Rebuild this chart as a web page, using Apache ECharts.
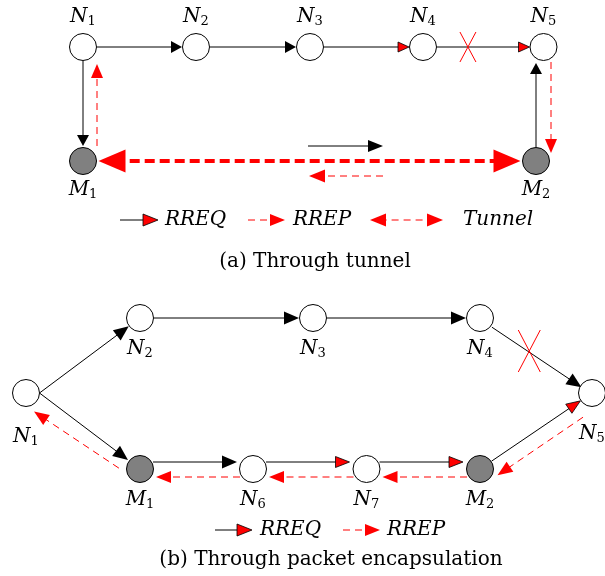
<!DOCTYPE html>
<html>
<head>
<meta charset="utf-8">
<script src="https://cdn.jsdelivr.net/npm/echarts@6/dist/echarts.min.js"></script>
<style>
  html, body { margin: 0; padding: 0; background: #fff; }
  #chart { width: 605px; height: 576px; }
</style>
</head>
<body>
<div id="chart"></div>
<script>
// ---------- (a) route repair through a tunnel ----------
const nodesA  = ['N1', 'N2', 'N3', 'N4', 'N5', 'M1', 'M2'];
const nodesAX = [83, 196, 310, 423, 543.5, 83, 536];
const nodesAY = [47, 47, 47, 47, 47, 161, 161];
const linksAFrom = ['N1', 'N2', 'N3', 'N4', 'N1', 'M2', 'M1', 'N5', 'M1'];
const linksATo   = ['N2', 'N3', 'N4', 'N5', 'M1', 'N5', 'N1', 'M2', 'M2'];
const linksAType = ['rreq', 'rreq', 'rreqRed', 'rreqRed', 'rreq', 'rreq', 'rrep', 'rrep', 'tunnel'];
const brokenAFrom = ['N4'];
const brokenATo   = ['N5'];
const legendA  = ['RREQ', 'RREP', 'Tunnel'];
const captionA = '(a) Through tunnel';

// ---------- (b) route repair through packet encapsulation ----------
const nodesB  = ['N1', 'N2', 'N3', 'N4', 'N5', 'M1', 'N6', 'N7', 'M2'];
const nodesBX = [26, 140, 313, 480, 592, 140, 253, 366.5, 480];
const nodesBY = [393, 318, 318, 318, 393, 469, 469, 469, 469];
const linksBFrom = ['N1', 'N2', 'N3', 'N4', 'N1', 'M1', 'N6', 'N7', 'M2', 'N5', 'M2', 'N7', 'N6', 'M1'];
const linksBTo   = ['N2', 'N3', 'N4', 'N5', 'M1', 'N6', 'N7', 'M2', 'N5', 'M2', 'N7', 'N6', 'M1', 'N1'];
const linksBType = ['rreq', 'rreq', 'rreq', 'rreq', 'rreq', 'rreq', 'rreqRed', 'rreqRed', 'rreqRed',
                    'rrep', 'rrep', 'rrep', 'rrep', 'rrep'];
const brokenBFrom = ['N4'];
const brokenBTo   = ['N5'];
const legendB  = ['RREQ', 'RREP'];
const captionB = '(b) Through packet encapsulation';

// ---------- drawing settings ----------
const R = 13.5;                       // node radius
const SERIF = 'DejaVu Serif';
const TYPE_KEYS = ['rreq', 'rreqRed', 'rrep', 'tunnel'];
const STYLE = {
  rreq:    { stroke: '#000', lw: 1, dash: null,    fill: '#000', edge: null },
  rreqRed: { stroke: '#000', lw: 1, dash: null,    fill: '#f00', edge: '#000' },
  rrep:    { stroke: '#f00', lw: 1, dash: [7, 5],  fill: '#f00', edge: null },
  tunnel:  { stroke: '#f00', lw: 4, dash: [10, 5], fill: '#f00', edge: null, both: true }
};
const headsA = { rreq: [11, 12], rreqRed: [11, 10], rrep: [14, 12], tunnel: [27, 23] };
const headsB = { rreq: [15, 13], rreqRed: [14, 11], rrep: [15, 12] };

// how each link leaves / reaches its nodes (offset to the right of travel, trims)
const routesA = {
  'N1>M1': { s1: 15 },
  'M2>N5': { axis: 'v', s1: 16 },
  'M1>N1': { axis: 'v', off: 14, s0: 15, s1: 17 },
  'N5>M2': { axis: 'v', off: -7.5, s0: 15, s1: 8 },
  'M1>M2': { s0: 15.5, s1: 15.5 }
};
const routesB = {
  'N1>N2': { from: 'e', s1: 14 },
  'N1>M1': { from: 'e', s1: 15 },
  'N4>N5': { off: 1, s0: 15, s1: 12 },
  'M1>N6': { off: -7, s0: 13, s1: 16 },
  'N6>N7': { off: -7, s0: 13, s1: 17 },
  'N7>M2': { off: -7, s0: 13, s1: 17 },
  'N5>M2': { off: -15, s0: 21, s1: 11 },
  'M2>N7': { off: -8, s0: 13, s1: 16 },
  'N7>N6': { off: -8, s0: 13, s1: 16 },
  'N6>M1': { off: -8, s0: 13, s1: 16 },
  'M1>N1': { off: -11, s0: 18, s1: 17 }
};
const labelDyA = { N1: -30, N2: -30, N3: -30, N4: -30, N5: -30, M1: 29, M2: 29 };
const labelDyB = { N1: 44, N2: 31, N3: 31, N4: 31, N5: 41, M1: 31, N6: 31, N7: 31, M2: 31 };
const breakA = { t: 0.373, hw: 8, hh: 15 };
const breakB = { t: 0.44, hw: 11, hh: 21 };

function buildLinks(names, xs, ys, from, to, types, routes, heads) {
  return from.map(function (f, k) {
    const t = to[k], i = names.indexOf(f), j = names.indexOf(t);
    const r = routes[f + '>' + t] || {};
    let sx = xs[i], sy = ys[i];
    if (r.from === 'e') sx += R;
    let tx = xs[j], ty = ys[j];
    let ux, uy;
    if (r.axis === 'v') { tx = sx; ux = 0; uy = Math.sign(ty - sy); }
    else {
      const L = Math.hypot(tx - sx, ty - sy);
      ux = (tx - sx) / L; uy = (ty - sy) / L;
    }
    const nx = -uy, ny = ux;
    const off = r.off || 0;
    const s0 = r.s0 != null ? r.s0 : (r.from ? 0 : R + 0.5);
    const s1 = r.s1 != null ? r.s1 : R + 0.5;
    const h = heads[types[k]];
    return [sx + ux * s0 + nx * off, sy + uy * s0 + ny * off,
            tx - ux * s1 + nx * off, ty - uy * s1 + ny * off,
            TYPE_KEYS.indexOf(types[k]), h[0], h[1]];
  });
}

function buildBreaks(names, xs, ys, from, to, b) {
  return from.map(function (f, k) {
    const i = names.indexOf(f), j = names.indexOf(to[k]);
    return [xs[i] + (xs[j] - xs[i]) * b.t, ys[i] + (ys[j] - ys[i]) * b.t, b.hw, b.hh];
  });
}

// line plus triangular head(s) in pixel space
function arrowShapes(a, b, st, len, w) {
  const dx = b[0] - a[0], dy = b[1] - a[1], L = Math.hypot(dx, dy);
  const ux = dx / L, uy = dy / L, nx = -uy, ny = ux;
  const tri = function (tip, sx, sy) {
    const bx = tip[0] - sx * len, by = tip[1] - sy * len;
    return {
      type: 'polygon',
      shape: { points: [[tip[0], tip[1]], [bx + nx * w / 2, by + ny * w / 2], [bx - nx * w / 2, by - ny * w / 2]] },
      style: { fill: st.fill, stroke: st.edge || null, lineWidth: st.edge ? 0.8 : 0 }
    };
  };
  const p1 = [b[0] - ux * len * 0.6, b[1] - uy * len * 0.6];
  const p0 = st.both ? [a[0] + ux * len * 0.6, a[1] + uy * len * 0.6] : a;
  const out = [{
    type: 'line',
    shape: { x1: p0[0], y1: p0[1], x2: p1[0], y2: p1[1] },
    style: { stroke: st.stroke, lineWidth: st.lw, lineDash: st.dash, lineCap: 'butt' }
  }, tri(b, ux, uy)];
  if (st.both) out.push(tri(a, -ux, -uy));
  return out;
}

function renderLink(params, api) {
  const a = api.coord([api.value(0), api.value(1)]);
  const b = api.coord([api.value(2), api.value(3)]);
  const st = STYLE[TYPE_KEYS[api.value(4)]];
  return { type: 'group', children: arrowShapes(a, b, st, api.value(5), api.value(6)) };
}

function renderBreak(params, api) {
  const c = api.coord([api.value(0), api.value(1)]);
  const hw = api.value(2), hh = api.value(3);
  const s = { stroke: '#f00', lineWidth: 1 };
  return { type: 'group', children: [
    { type: 'line', shape: { x1: c[0] - hw, y1: c[1] - hh, x2: c[0] + hw, y2: c[1] + hh }, style: s },
    { type: 'line', shape: { x1: c[0] + hw, y1: c[1] - hh, x2: c[0] - hw, y2: c[1] + hh }, style: s }
  ] };
}

function nodeData(names, xs, ys, dy) {
  return names.map(function (n, i) {
    return {
      name: n, value: [xs[i], ys[i]],
      itemStyle: { color: n.charAt(0) === 'M' ? '#808080' : '#fff' },
      label: { offset: [0, dy[n]] }
    };
  });
}

const nodeLabel = {
  show: true, position: 'inside',
  formatter: function (p) { return '{i|' + p.name.charAt(0) + '}{s|' + p.name.slice(1) + '}'; },
  rich: {
    i: { fontFamily: SERIF, fontStyle: 'italic', fontSize: 20, lineHeight: 22, color: '#000' },
    s: { fontFamily: SERIF, fontSize: 13, lineHeight: 12, verticalAlign: 'bottom', color: '#000' }
  }
};

function nodeSeries(data) {
  return {
    type: 'scatter', data: data, symbol: 'circle', symbolSize: 2 * R, z: 5,
    itemStyle: { borderColor: '#000', borderWidth: 1, opacity: 1 },
    label: nodeLabel, emphasis: { disabled: true }, silent: true
  };
}

function linkSeries(data) {
  return {
    type: 'custom', coordinateSystem: 'cartesian2d', renderItem: renderLink,
    data: data, encode: { x: [0, 2], y: [1, 3] }, clip: false, z: 3, silent: true
  };
}

function breakSeries(data) {
  return {
    type: 'custom', coordinateSystem: 'cartesian2d', renderItem: renderBreak,
    data: data, encode: { x: 0, y: 1 }, clip: false, z: 4, silent: true
  };
}

// ---------- legends, direction hints, captions ----------
const graphics = [];
function addArrow(x1, y1, x2, y2, type, len, w) {
  graphics.push({ type: 'group', silent: true, children: arrowShapes([x1, y1], [x2, y2], STYLE[type], len, w) });
}
function addText(text, x, y, italic, align) {
  graphics.push({
    type: 'text', silent: true,
    style: { text: text, x: x, y: y, fill: '#000', fontFamily: SERIF, fontSize: 20,
             fontStyle: italic ? 'italic' : 'normal', align: align || 'left', verticalAlign: 'middle' }
  });
}

// tunnel direction hints
addArrow(308, 146, 383, 146, 'rreq', 15, 12);
addArrow(383, 176, 309, 176, 'rrep', 16, 13);

// legend (a)
addArrow(120, 220, 158, 220, 'rreqRed', 15, 12);
addText(legendA[0], 165, 220, true);
addArrow(248, 220, 285, 220, 'rrep', 15, 12);
addText(legendA[1], 293, 220, true);
graphics.push({ type: 'group', silent: true, children: arrowShapes([370, 220], [443, 220],
  { stroke: '#f00', lw: 1, dash: [7, 5], fill: '#f00', edge: null, both: true }, 16, 13) });
addText(legendA[2], 463, 220, true);
addText(captionA, 315, 262, false, 'center');

// legend (b)
addArrow(215, 530, 252, 530, 'rreqRed', 15, 12);
addText(legendB[0], 260, 530, true);
addArrow(343, 530, 380, 530, 'rrep', 15, 12);
addText(legendB[1], 387, 530, true);
addText(captionB, 331, 560, false, 'center');

const option = {
  animation: false,
  backgroundColor: '#fff',
  grid: { left: 0, right: 0, top: 0, bottom: 0 },
  xAxis: { type: 'value', min: 0, max: 605, show: false },
  yAxis: { type: 'value', min: 0, max: 576, inverse: true, show: false },
  series: [
    linkSeries(buildLinks(nodesA, nodesAX, nodesAY, linksAFrom, linksATo, linksAType, routesA, headsA)),
    linkSeries(buildLinks(nodesB, nodesBX, nodesBY, linksBFrom, linksBTo, linksBType, routesB, headsB)),
    breakSeries(buildBreaks(nodesA, nodesAX, nodesAY, brokenAFrom, brokenATo, breakA)),
    breakSeries(buildBreaks(nodesB, nodesBX, nodesBY, brokenBFrom, brokenBTo, breakB)),
    nodeSeries(nodeData(nodesA, nodesAX, nodesAY, labelDyA)),
    nodeSeries(nodeData(nodesB, nodesBX, nodesBY, labelDyB))
  ],
  graphic: graphics
};

echarts.init(document.getElementById('chart'), null, { renderer: 'canvas' }).setOption(option);
</script>
</body>
</html>
